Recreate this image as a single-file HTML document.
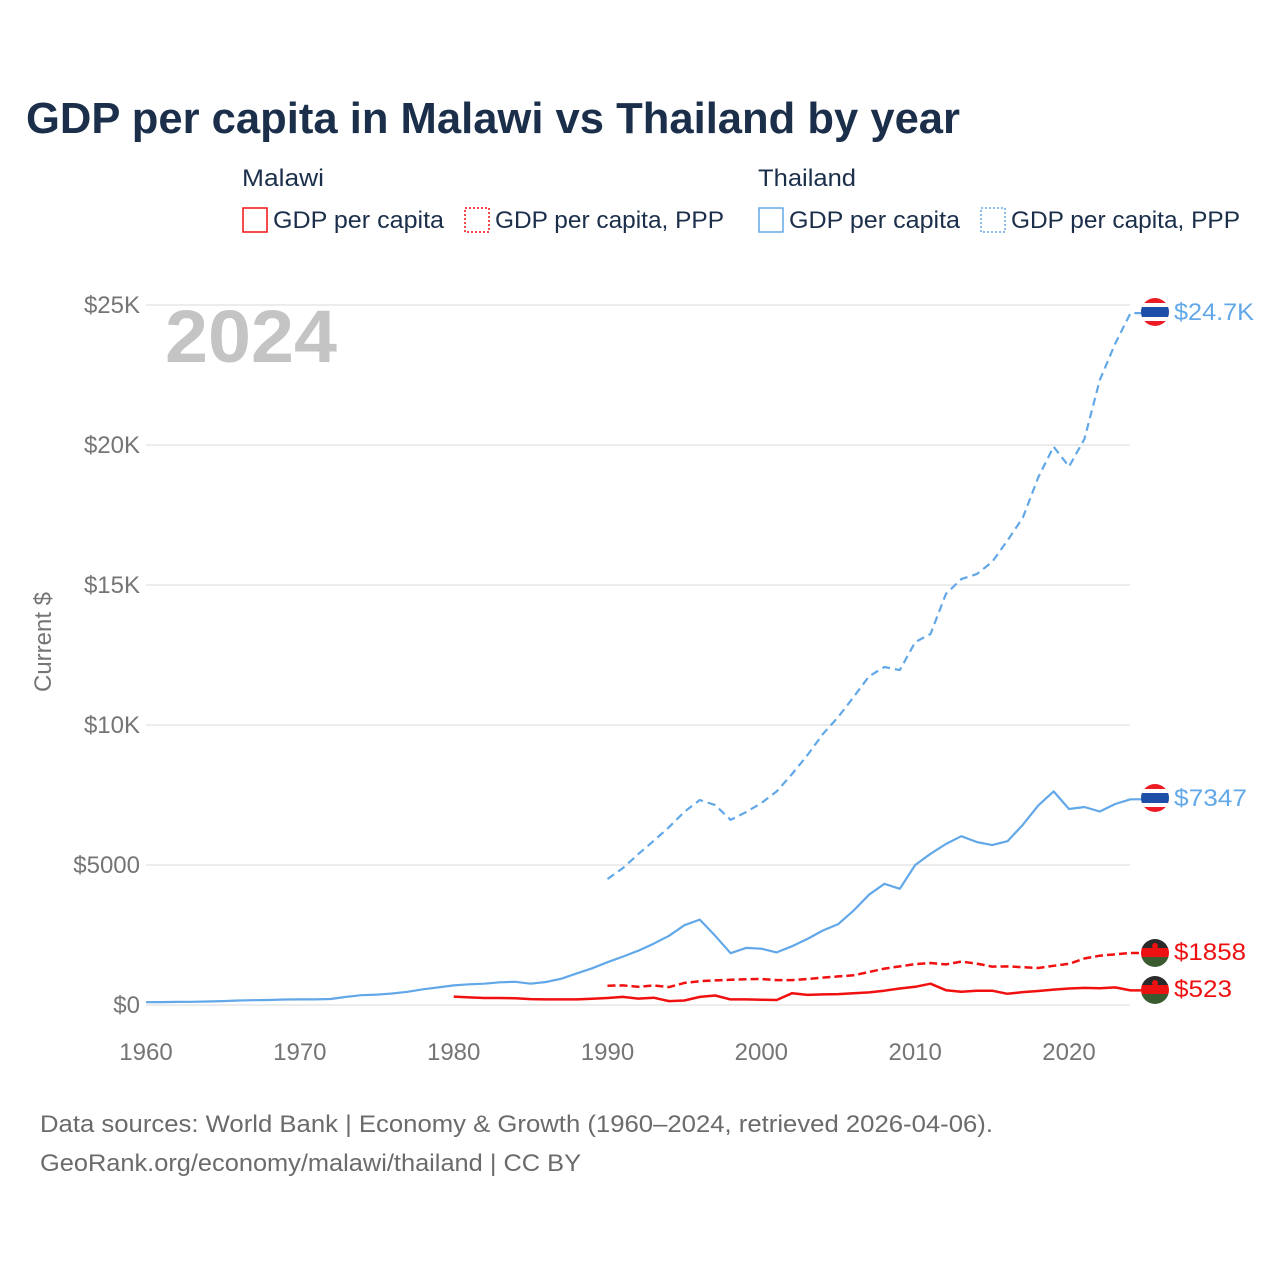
<!DOCTYPE html>
<html><head><meta charset="utf-8"><style>
body{margin:0;background:#fff;font-family:"Liberation Sans",sans-serif;}
svg text{font-family:"Liberation Sans",sans-serif;}
</style></head><body>
<svg width="1280" height="1280" viewBox="0 0 1280 1280">
<defs>
<clipPath id="fc1"><circle cx="1155" cy="312" r="14"/></clipPath>
<clipPath id="fc2"><circle cx="1155" cy="798" r="14"/></clipPath>
<clipPath id="fc3"><circle cx="1155" cy="953" r="14"/></clipPath>
<clipPath id="fc4"><circle cx="1155" cy="990" r="14"/></clipPath>
</defs>
<text x="26" y="133" font-size="44" font-weight="bold" fill="#1b2f4b" textLength="934" lengthAdjust="spacingAndGlyphs">GDP per capita in Malawi vs Thailand by year</text>
<g>
<text x="242" y="186" font-size="24" fill="#1b2f4b" textLength="82" lengthAdjust="spacingAndGlyphs">Malawi</text>
<text x="758" y="186" font-size="24" fill="#1b2f4b" textLength="98" lengthAdjust="spacingAndGlyphs">Thailand</text>
<rect x="243" y="208" width="24" height="24" fill="none" stroke="#f01010" stroke-width="1.5"/>
<text x="273" y="228" font-size="24" fill="#1b2f4b" textLength="171" lengthAdjust="spacingAndGlyphs">GDP per capita</text>
<rect x="465" y="208" width="24" height="24" fill="none" stroke="#f01010" stroke-width="1.5" stroke-dasharray="2,2"/>
<text x="495" y="228" font-size="24" fill="#1b2f4b" textLength="229" lengthAdjust="spacingAndGlyphs">GDP per capita, PPP</text>
<rect x="759" y="208" width="24" height="24" fill="none" stroke="#62a8e8" stroke-width="1.5"/>
<text x="789" y="228" font-size="24" fill="#1b2f4b" textLength="171" lengthAdjust="spacingAndGlyphs">GDP per capita</text>
<rect x="981" y="208" width="24" height="24" fill="none" stroke="#62a8e8" stroke-width="1.5" stroke-dasharray="2,2"/>
<text x="1011" y="228" font-size="24" fill="#1b2f4b" textLength="229" lengthAdjust="spacingAndGlyphs">GDP per capita, PPP</text>
</g>
<g id="grid"></g>
<text x="165" y="362" font-size="74" font-weight="bold" fill="#c4c4c4" textLength="172" lengthAdjust="spacingAndGlyphs">2024</text>
<text transform="translate(51,642) rotate(-90)" text-anchor="middle" font-size="24" fill="#757575">Current $</text>
<g id="series"></g>
<g clip-path="url(#fc1)">
<rect x="1141" y="298" width="28" height="28" fill="#ed1c24"/><rect x="1141" y="303" width="28" height="18" fill="#fff"/><rect x="1141" y="307" width="28" height="10" fill="#1d4fa8"/></g>
<g clip-path="url(#fc2)">
<rect x="1141" y="784" width="28" height="28" fill="#ed1c24"/><rect x="1141" y="789" width="28" height="18" fill="#fff"/><rect x="1141" y="793" width="28" height="10" fill="#1d4fa8"/></g>
<g clip-path="url(#fc3)">
<rect x="1141" y="939" width="28" height="10" fill="#2a2a2a"/><rect x="1141" y="948" width="28" height="10" fill="#ee1111"/><rect x="1141" y="957" width="28" height="10" fill="#3a5a30"/><circle cx="1155" cy="946" r="3" fill="#ee1111"/></g>
<g clip-path="url(#fc4)">
<rect x="1141" y="976" width="28" height="10" fill="#2a2a2a"/><rect x="1141" y="985" width="28" height="10" fill="#ee1111"/><rect x="1141" y="994" width="28" height="10" fill="#3a5a30"/><circle cx="1155" cy="983" r="3" fill="#ee1111"/></g>
<text x="1174" y="320" font-size="24" fill="#62a8e8" textLength="80" lengthAdjust="spacingAndGlyphs">$24.7K</text>
<text x="1174" y="806" font-size="24" fill="#62a8e8" textLength="73" lengthAdjust="spacingAndGlyphs">$7347</text>
<text x="1174" y="960" font-size="24" fill="#ee1111" textLength="72" lengthAdjust="spacingAndGlyphs">$1858</text>
<text x="1174" y="997" font-size="24" fill="#ee1111" textLength="58" lengthAdjust="spacingAndGlyphs">$523</text>
<text x="40" y="1132" font-size="24" fill="#6b6b6b" textLength="953" lengthAdjust="spacingAndGlyphs">Data sources: World Bank | Economy &amp; Growth (1960–2024, retrieved 2026-04-06).</text>
<text x="40" y="1171" font-size="24" fill="#6b6b6b" textLength="541" lengthAdjust="spacingAndGlyphs">GeoRank.org/economy/malawi/thailand | CC BY</text>
</svg>
<script>
const yTicks=[0,5000,10000,15000,20000,25000];
const yTickLabels=["$0","$5000","$10K","$15K","$20K","$25K"];
const xTicks=[1960,1970,1980,1990,2000,2010,2020];
const thaiGdpStart=1960;
const thaiGdp=[100,105,110,115,125,140,160,170,180,195,200,200,215,290,350,370,410,470,560,630,700,740,760,810,830,760,820,940,1130,1310,1530,1730,1940,2190,2470,2850,3050,2470,1850,2040,2010,1880,2100,2360,2660,2890,3370,3940,4330,4150,5000,5400,5750,6030,5820,5710,5850,6440,7120,7630,7000,7070,6910,7180,7347];
const thaiPppStart=1990;
const thaiPpp=[4500,4890,5390,5860,6350,6900,7320,7140,6610,6890,7210,7630,8250,8930,9680,10290,11000,11740,12070,11960,12960,13250,14680,15210,15390,15820,16590,17410,18840,19940,19230,20210,22320,23620,24710];
const malGdpStart=1980;
const malGdp=[300,270,250,250,240,210,200,200,200,220,250,290,230,260,140,160,290,340,200,200,190,180,420,360,380,390,420,450,510,590,650,760,530,470,510,510,400,460,500,550,590,610,600,630,523];
const malPppStart=1990;
const malPpp=[690,700,650,700,640,790,850,880,900,920,930,890,890,930,980,1020,1060,1180,1300,1380,1460,1500,1450,1550,1480,1370,1380,1350,1320,1400,1470,1660,1760,1810,1858];
const NS="http://www.w3.org/2000/svg";
const xS=yr=>146+(yr-1960)*(1069-146)/60;
const yS=v=>1005-v*700/25000;
const grid=document.getElementById('grid');
yTicks.forEach((t,i)=>{
 const l=document.createElementNS(NS,'line');
 l.setAttribute('x1',146);l.setAttribute('x2',1130);l.setAttribute('y1',yS(t));l.setAttribute('y2',yS(t));
 l.setAttribute('stroke','#e6e6e6');l.setAttribute('stroke-width',1.5);
 
 
 grid.appendChild(l);
 const tx=document.createElementNS(NS,'text');
 tx.setAttribute('x',140);tx.setAttribute('y',yS(t)+8);tx.setAttribute('text-anchor','end');
 tx.setAttribute('font-size',24);tx.setAttribute('fill','#757575');tx.textContent=yTickLabels[i];
 
 
 grid.appendChild(tx);
});
xTicks.forEach(t=>{
 const tx=document.createElementNS(NS,'text');
 tx.setAttribute('x',xS(t));tx.setAttribute('y',1060);tx.setAttribute('text-anchor','middle');
 tx.setAttribute('font-size',24);tx.setAttribute('fill','#757575');tx.textContent=t;
 
 
 grid.appendChild(tx);
});
const ser=document.getElementById('series');
function draw(start,vals,color,dash,name,w){
 const pts=vals.map((v,i)=>xS(start+i).toFixed(1)+','+yS(v).toFixed(1));
 pts.push('1141,'+yS(vals[vals.length-1]).toFixed(1));
 const p=document.createElementNS(NS,'polyline');
 p.setAttribute('points',pts.join(' '));
 p.setAttribute('fill','none');p.setAttribute('stroke',color);p.setAttribute('stroke-width',w);
 p.setAttribute('stroke-linejoin','round');
 if(dash)p.setAttribute('stroke-dasharray',dash);
 
 
 ser.appendChild(p);
}
draw(thaiPppStart,thaiPpp,'#62a8e8','8,5','line-thailand-ppp',2.2);
draw(thaiGdpStart,thaiGdp,'#62a8e8',null,'line-thailand-gdp',2.2);
draw(malPppStart,malPpp,'#f01010','8,4','line-malawi-ppp',2.5);
draw(malGdpStart,malGdp,'#f01010',null,'line-malawi-gdp',2.5);
</script>
</body></html>
